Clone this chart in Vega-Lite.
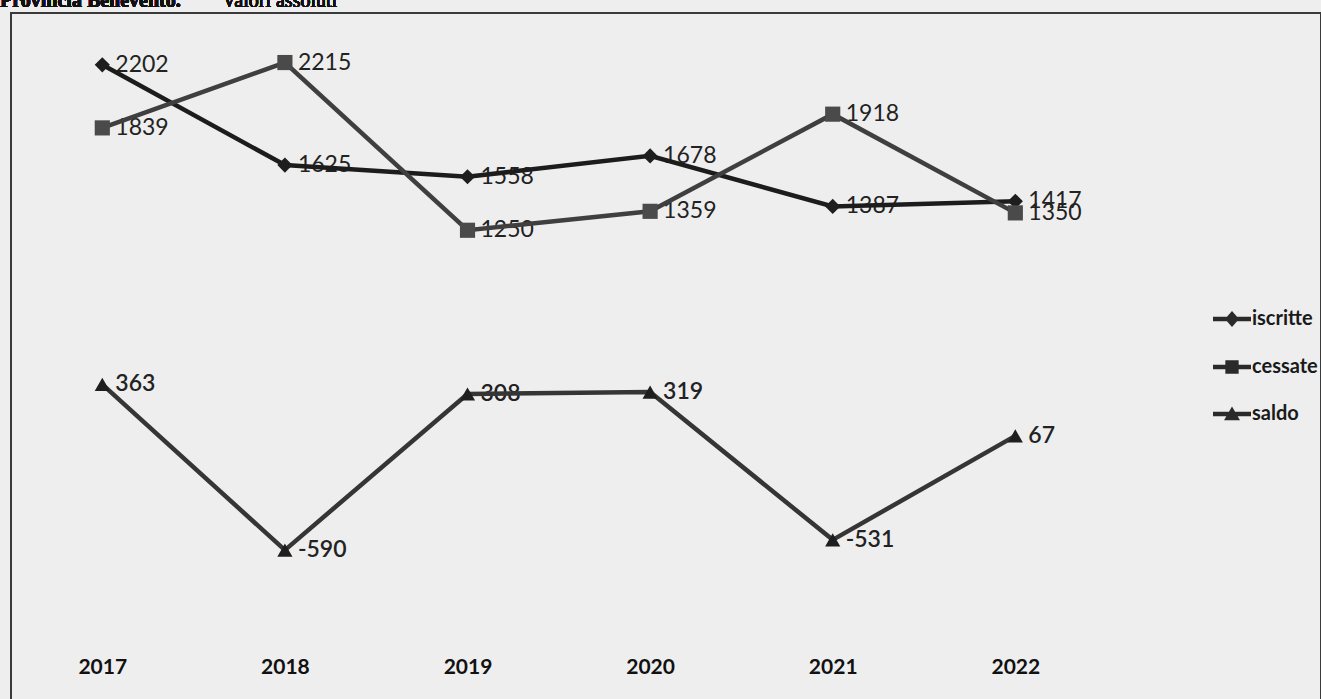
{
  "$schema": "https://vega.github.io/schema/vega-lite/v6.json",
  "autosize": {"type": "none"},
  "padding": {"left": 11, "top": 13, "right": 0, "bottom": 0},
  "width": 1310,
  "height": 689,
  "background": "#eeeeee",
  "config": {
    "view": {"stroke": "#3a3a3a", "strokeWidth": 2, "fill": "#eeeeee"},
    "font": "Lato"
  },
  "data": {
    "values": [
      {"year": 2017, "series": "iscritte", "value": 2202},
      {"year": 2018, "series": "iscritte", "value": 1625},
      {"year": 2019, "series": "iscritte", "value": 1558},
      {"year": 2020, "series": "iscritte", "value": 1678},
      {"year": 2021, "series": "iscritte", "value": 1387},
      {"year": 2022, "series": "iscritte", "value": 1417},
      {"year": 2017, "series": "cessate", "value": 1839},
      {"year": 2018, "series": "cessate", "value": 2215},
      {"year": 2019, "series": "cessate", "value": 1250},
      {"year": 2020, "series": "cessate", "value": 1359},
      {"year": 2021, "series": "cessate", "value": 1918},
      {"year": 2022, "series": "cessate", "value": 1350},
      {"year": 2017, "series": "saldo", "value": 363},
      {"year": 2018, "series": "saldo", "value": -590},
      {"year": 2019, "series": "saldo", "value": 308},
      {"year": 2020, "series": "saldo", "value": 319},
      {"year": 2021, "series": "saldo", "value": -531},
      {"year": 2022, "series": "saldo", "value": 67}
    ]
  },
  "layer": [
    {
      "transform": [{"filter": "datum.series !== 'saldo'"}],
      "mark": {"type": "text", "align": "left", "baseline": "middle", "dx": 13, "fontSize": 23, "color": "#222222", "font": "Lato"},
      "encoding": {
        "x": {"field": "year", "type": "quantitative", "scale": {"domain": [2016.5, 2023.674], "nice": false, "zero": false},
          "axis": {"values": [2017, 2018, 2019, 2020, 2021, 2022], "format": "d", "title": null, "grid": false, "domain": false, "ticks": false, "offset": -46, "labelPadding": 0, "labelFont": "Lato", "labelFontSize": 21, "labelFontWeight": "bold", "labelColor": "#111111", "labelBaseline": "top", "labelFlush": false}},
        "y": {"field": "value", "type": "quantitative", "scale": {"domain": [-1464, 2500], "nice": false, "zero": false}, "axis": null},
        "text": {"field": "value", "type": "nominal"}
      }
    },
    {
      "transform": [{"filter": "datum.series === 'saldo'"}],
      "mark": {"type": "text", "align": "left", "baseline": "middle", "dx": 13, "fontSize": 23, "fontWeight": 600, "color": "#222222", "font": "Lato"},
      "encoding": {
        "x": {"field": "year", "type": "quantitative"},
        "y": {"field": "value", "type": "quantitative"},
        "text": {"field": "value", "type": "nominal"}
      }
    },
    {
      "mark": {"type": "line", "strokeWidth": 4.5},
      "encoding": {
        "x": {"field": "year", "type": "quantitative"},
        "y": {"field": "value", "type": "quantitative"},
        "detail": {"field": "series", "type": "nominal"},
        "stroke": {
          "condition": [
            {"test": "datum.series === 'cessate'", "value": "#3f3f3f"},
            {"test": "datum.series === 'saldo'", "value": "#353535"}
          ],
          "value": "#1c1c1c"
        }
      }
    },
    {
      "mark": {"type": "point", "filled": true, "opacity": 1, "size": 230},
      "encoding": {
        "x": {"field": "year", "type": "quantitative"},
        "y": {"field": "value", "type": "quantitative"},
        "shape": {
          "condition": [
            {"test": "datum.series === 'cessate'", "value": "square"},
            {"test": "datum.series === 'saldo'", "value": "triangle-up"}
          ],
          "value": "diamond"
        },
        "color": {
          "condition": {"test": "datum.series === 'cessate'", "value": "#4a4a4a"},
          "value": "#1e1e1e"
        }
      }
    },
    {
      "transform": [{"filter": "false"}],
      "mark": {"type": "point", "filled": true, "opacity": 1},
      "encoding": {
        "x": {"field": "year", "type": "quantitative"},
        "y": {"field": "value", "type": "quantitative"},
        "shape": {
          "field": "series",
          "type": "nominal",
          "scale": {
            "domain": ["iscritte", "cessate", "saldo"],
            "range": [
              "M-1,-0.12H1V0.12H-1ZM0,-0.42L0.37,0L0,0.42L-0.37,0Z",
              "M-1,-0.12H1V0.12H-1ZM-0.35,-0.35H0.35V0.35H-0.35Z",
              "M-1,-0.12H1V0.12H-1ZM0,-0.4L0.42,0.33H-0.42Z"
            ]
          },
          "legend": {
            "orient": "none",
            "legendX": 1201,
            "legendY": 286,
            "title": null,
            "symbolSize": 1444,
            "rowPadding": 17,
            "labelOffset": 0,
            "labelFont": "Lato",
            "labelFontSize": 20,
            "labelFontWeight": "bold",
            "labelColor": "#1a1a1a",
            "symbolFillColor": "#2a2a2a",
            "symbolOpacity": 1
          }
        },
        "color": {"value": "#2a2a2a"}
      }
    },
    {
      "mark": {"type": "text", "align": "left", "baseline": "alphabetic", "font": "Liberation Serif", "fontSize": 20, "fontWeight": "bold", "color": "#111111", "clip": false},
      "encoding": {
        "x": {"datum": 2016.44, "type": "quantitative"},
        "y": {"datum": 2534, "type": "quantitative"},
        "text": {"value": "Provincia Benevento."}
      }
    },
    {
      "mark": {"type": "text", "align": "left", "baseline": "alphabetic", "font": "Liberation Serif", "fontSize": 20, "color": "#111111", "clip": false},
      "encoding": {
        "x": {"datum": 2017.656, "type": "quantitative"},
        "y": {"datum": 2534, "type": "quantitative"},
        "text": {"value": "Valori assoluti"}
      }
    }
  ]
}
